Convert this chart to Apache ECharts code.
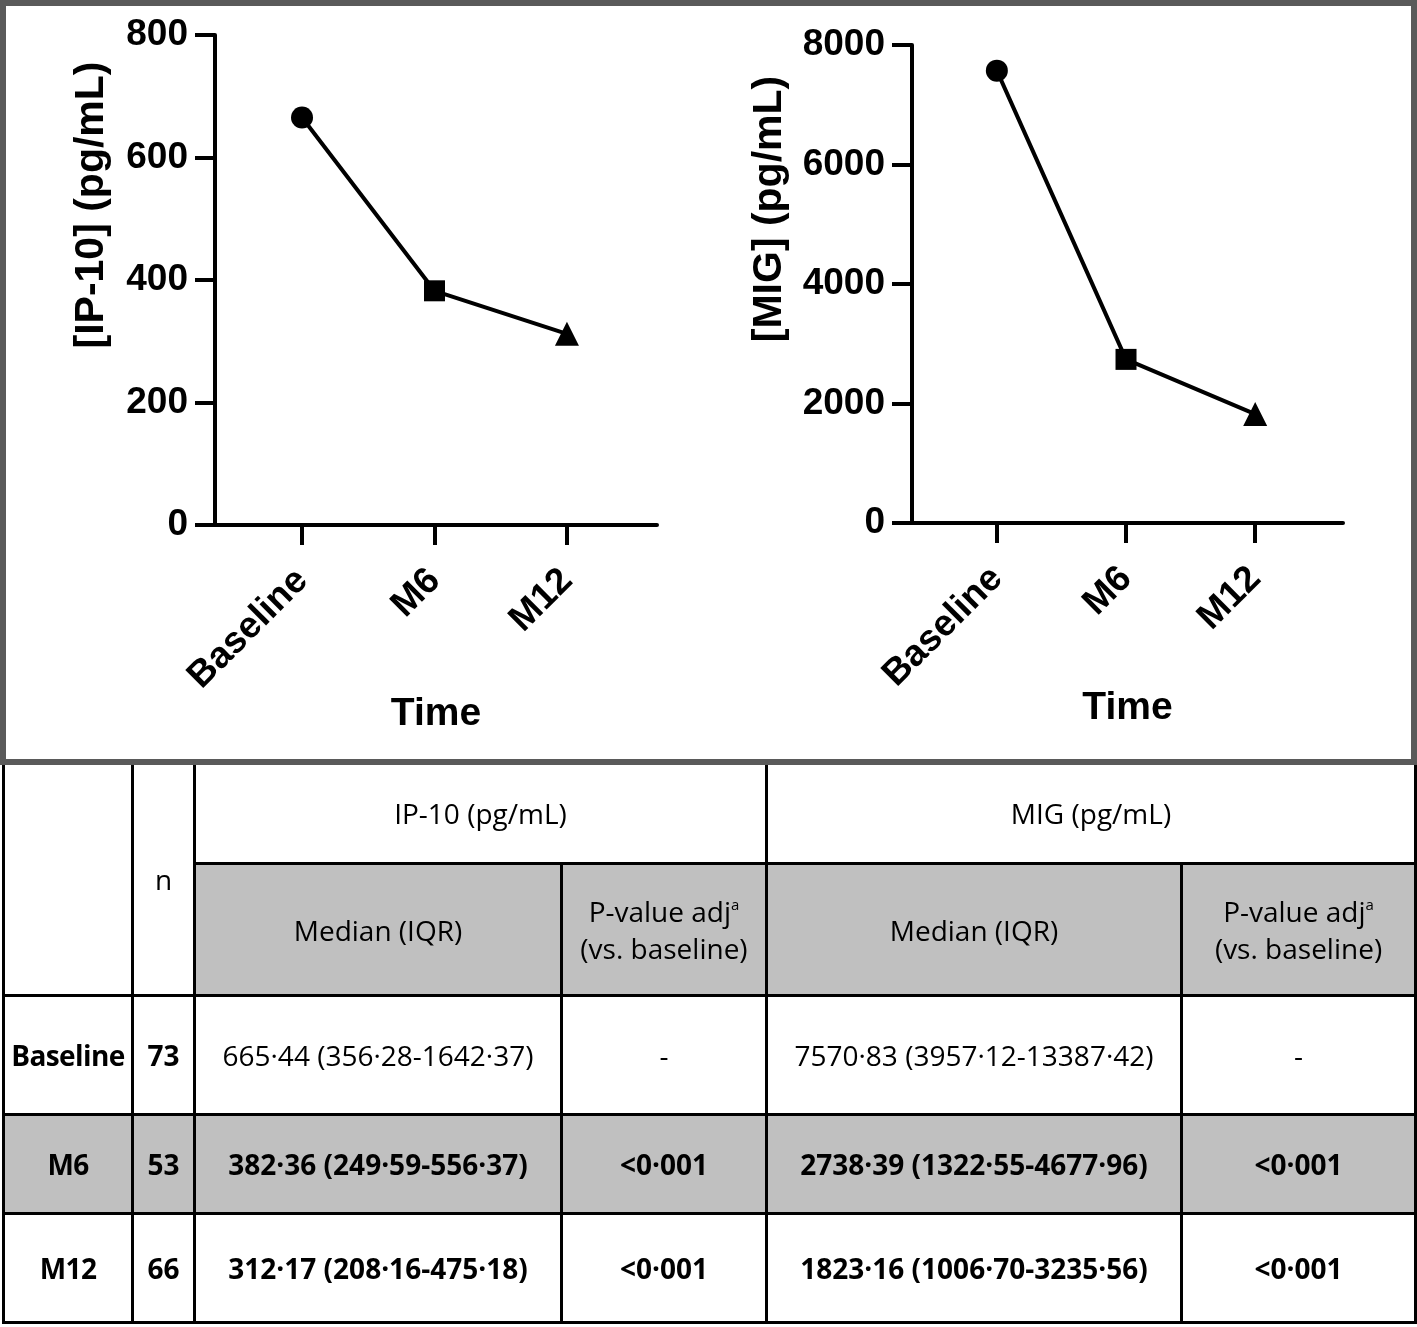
<!DOCTYPE html>
<html>
<head>
<meta charset="utf-8">
<script src="https://cdn.jsdelivr.net/npm/echarts@6.0.0/dist/echarts.min.js"></script>
<style>
  html, body { margin: 0; padding: 0; background: #fff; }
  #charts { position: absolute; left: 0; top: 0; width: 1417px; height: 765px; }
  #frame { position: absolute; left: 0; top: 0; width: 1417px; height: 765px; box-sizing: border-box;
           border: 6px solid #5a5a5a; pointer-events: none; z-index: 5; }
  #tbl { position: absolute; left: 2px; top: 761px; width: 1412px; border-collapse: collapse;
         table-layout: fixed; font-family: "Open Sans", sans-serif; font-size: 28px; color: #000; }
  #tbl td { border: 3px solid #000; text-align: center; vertical-align: middle; padding: 0; }
  #tbl .grey td, #tbl td.grey { background: #c0c0c0; }
  #tbl .b { font-weight: 700; }
  #tbl .first { letter-spacing: -0.6px; }
  #tbl .two { line-height: 37px; }
  #tbl sup { font-size: 15px; vertical-align: 12px; line-height: 0; }
</style>
</head>
<body>
<div id="charts"></div>
<div id="frame"></div>
<table id="tbl">
  <colgroup>
    <col style="width:129px"><col style="width:62px"><col style="width:367px">
    <col style="width:205px"><col style="width:415px"><col style="width:234px">
  </colgroup>
  <tbody id="tbody"></tbody>
</table>
<script>
// time points and summary values (median, IQR) per marker
var timepoints = ['Baseline', 'M6', 'M12'];
var nCounts = [73, 53, 66];
var ip10Median = [665.44, 382.36, 312.17];
var ip10Q1 = [356.28, 249.59, 208.16];
var ip10Q3 = [1642.37, 556.37, 475.18];
var ip10P = ['-', '<0·001', '<0·001'];
var migMedian = [7570.83, 2738.39, 1823.16];
var migQ1 = [3957.12, 1322.55, 1006.70];
var migQ3 = [13387.42, 4677.96, 3235.56];
var migP = ['-', '<0·001', '<0·001'];

var chart = echarts.init(document.getElementById('charts'));

var font = '"Liberation Sans", Arial, sans-serif';
var markers = ['circle', 'rect', 'triangle'];
var markerSizes = [22, 21, 24];

function makeXAxis(gridIndex, gap) {
  return {
    type: 'value', gridIndex: gridIndex, min: -0.657, max: 2.68,
    splitLine: { show: false },
    axisLine: { onZero: false, lineStyle: { color: '#000', width: 4 } },
    axisTick: { customValues: [0, 1, 2], length: 20, lineStyle: { color: '#000', width: 4 } },
    axisLabel: {
      customValues: [0, 1, 2], rotate: 45, margin: 50,
      formatter: function (v) { return timepoints[v]; },
      color: '#000', fontSize: 37, fontWeight: 'bold', fontFamily: font
    },
    name: 'Time', nameLocation: 'middle', nameGap: gap, nameMoveOverlap: false,
    nameTextStyle: { color: '#000', fontSize: 39, fontWeight: 'bold', fontFamily: font }
  };
}

function makeYAxis(gridIndex, max, step, title, gap) {
  return {
    type: 'value', gridIndex: gridIndex, min: 0, max: max, interval: step,
    splitLine: { show: false },
    axisLine: { show: true, onZero: false, lineStyle: { color: '#000', width: 4 } },
    axisTick: { show: true, length: 20, lineStyle: { color: '#000', width: 4 } },
    axisLabel: {
      margin: 27, color: '#000', fontSize: 37, fontWeight: 'bold', fontFamily: font,
      formatter: function (v) { return String(v); }
    },
    name: title, nameLocation: 'middle', nameGap: gap, nameMoveOverlap: false,
    nameTextStyle: { color: '#000', fontSize: 41, fontWeight: 'bold', fontFamily: font,
                     padding: [0, 0, 0, 150] }
  };
}

function makeSeries(idx, values) {
  return {
    type: 'line', xAxisIndex: idx, yAxisIndex: idx,
    data: values.map(function (v, i) { return [i, v]; }),
    symbol: function (v, p) { return markers[p.dataIndex]; },
    symbolSize: function (v, p) { return markerSizes[p.dataIndex]; },
    itemStyle: { color: '#000' },
    lineStyle: { color: '#000', width: 4 },
    animation: false
  };
}

var option = {
  backgroundColor: '#fff',
  grid: [
    { left: 215, top: 35, width: 442, height: 490 },
    { left: 912, top: 45, width: 431, height: 478 }
  ],
  xAxis: [makeXAxis(0, 170), makeXAxis(1, 166)],
  yAxis: [makeYAxis(0, 800, 200, '[IP-10] (pg/mL)', 103), makeYAxis(1, 8000, 2000, '[MIG] (pg/mL)', 122)],
  series: [makeSeries(0, ip10Median), makeSeries(1, migMedian)]
};
chart.setOption(option);

// table below the charts
function fmt(v) { return v.toFixed(2).replace('.', '·'); }
var rows = [];
rows.push('<tr style="height:101px"><td rowspan="2"></td><td rowspan="2">n</td>' +
  '<td colspan="2">IP-10 (pg/mL)</td><td colspan="2">MIG (pg/mL)</td></tr>');
rows.push('<tr style="height:132px">' +
  '<td class="grey">Median (IQR)</td><td class="grey two">P-value adj<sup>a</sup><br>(vs. baseline)</td>' +
  '<td class="grey">Median (IQR)</td><td class="grey two">P-value adj<sup>a</sup><br>(vs. baseline)</td></tr>');
var rowHeights = [119, 99, 109];
timepoints.forEach(function (t, i) {
  var bold = i > 0 ? ' class="b"' : '';
  rows.push('<tr style="height:' + rowHeights[i] + 'px"' + (i === 1 ? ' class="grey"' : '') + '>' +
    '<td class="b first">' + t + '</td><td class="b">' + nCounts[i] + '</td>' +
    '<td' + bold + '>' + fmt(ip10Median[i]) + ' (' + fmt(ip10Q1[i]) + '-' + fmt(ip10Q3[i]) + ')</td>' +
    '<td' + bold + '>' + ip10P[i] + '</td>' +
    '<td' + bold + '>' + fmt(migMedian[i]) + ' (' + fmt(migQ1[i]) + '-' + fmt(migQ3[i]) + ')</td>' +
    '<td' + bold + '>' + migP[i] + '</td></tr>');
});
document.getElementById('tbody').innerHTML = rows.join('');
</script>
</body>
</html>
